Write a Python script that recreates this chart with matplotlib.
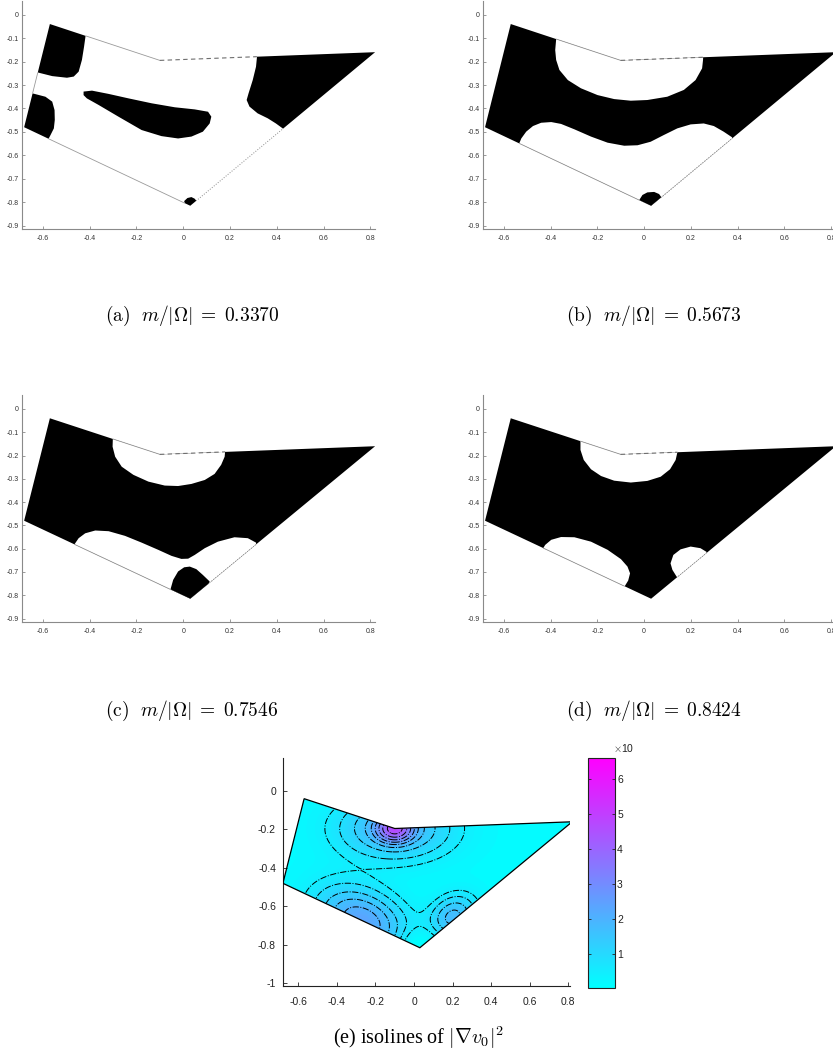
import numpy as np
import matplotlib
matplotlib.use('Agg')
import matplotlib.pyplot as plt
from matplotlib.path import Path
from matplotlib.patches import Polygon, PathPatch
from matplotlib.colors import Normalize
from matplotlib.cm import ScalarMappable

plt.rcParams['mathtext.fontset'] = 'cm'
plt.rcParams['axes.unicode_minus'] = False
plt.rcParams['font.family'] = ['Liberation Sans', 'DejaVu Sans']

W, H = 833, 1059

# domain vertices (top-left, notch, right, bottom, left)
domain_x = [-0.57, -0.10, 0.82, 0.03, -0.68]
domain_y = [-0.04, -0.195, -0.16, -0.815, -0.48]
edge_styles = ['-', '--', ':', '-', '-']

# (a) black regions
a_black = [
    [(-0.66, 0.02), (-0.404, 0.02), (-0.416, -0.080), (-0.424, -0.137), (-0.433, -0.193), (-0.447, -0.243),
     (-0.468, -0.264), (-0.497, -0.269), (-0.560, -0.262), (-0.620, -0.247), (-0.70, -0.236)],
    [(-0.73, -0.32), (-0.643, -0.336), (-0.589, -0.350), (-0.560, -0.371), (-0.550, -0.407), (-0.549, -0.449),
     (-0.553, -0.485), (-0.567, -0.513), (-0.577, -0.532), (-0.63, -0.57), (-0.73, -0.56)],
    [(-0.426, -0.328), (-0.390, -0.324), (-0.319, -0.338), (-0.234, -0.357), (-0.135, -0.378), (-0.036, -0.395),
     (0.049, -0.404), (0.106, -0.414), (0.120, -0.435), (0.113, -0.464), (0.084, -0.499), (0.035, -0.520),
     (-0.022, -0.528), (-0.093, -0.518), (-0.178, -0.492), (-0.277, -0.435), (-0.362, -0.385),
     (-0.412, -0.357), (-0.426, -0.343)],
    [(0.304, -0.08), (0.315, -0.182), (0.311, -0.222), (0.297, -0.279), (0.279, -0.336), (0.271, -0.364),
     (0.283, -0.392), (0.318, -0.421), (0.361, -0.442), (0.396, -0.464), (0.425, -0.485), (0.46, -0.535),
     (1.0, -0.364), (1.0, -0.08)],
    [(0.004, -0.795), (0.018, -0.782), (0.035, -0.778), (0.049, -0.785), (0.060, -0.799), (0.03, -0.9)],
]

# (b) white holes, then black islands inside them
b_white = [
    [(-0.383, -0.023), (-0.376, -0.105), (-0.380, -0.151), (-0.376, -0.193), (-0.362, -0.236), (-0.326, -0.279),
     (-0.270, -0.314), (-0.199, -0.343), (-0.128, -0.360), (-0.057, -0.367), (0.014, -0.364), (0.099, -0.350),
     (0.170, -0.321), (0.220, -0.279), (0.248, -0.229), (0.252, -0.193), (0.255, -0.108)],
    [(-0.596, -0.933), (-0.535, -0.552), (-0.525, -0.528), (-0.504, -0.499), (-0.475, -0.475), (-0.440, -0.461),
     (-0.397, -0.458), (-0.355, -0.466), (-0.298, -0.489), (-0.227, -0.520), (-0.156, -0.546), (-0.085, -0.559),
     (-0.028, -0.557), (0.028, -0.542), (0.085, -0.513), (0.142, -0.485), (0.199, -0.468), (0.255, -0.464),
     (0.298, -0.475), (0.340, -0.499), (0.376, -0.523), (0.468, -0.933)],
]
b_black = [
    [(-0.021, -0.791), (-0.007, -0.769), (0.014, -0.758), (0.043, -0.756), (0.064, -0.765), (0.074, -0.779),
     (0.028, -0.904)],
]

# (c)
c_white = [
    [(-0.305, -0.033), (-0.301, -0.130), (-0.302, -0.162), (-0.291, -0.205), (-0.263, -0.248), (-0.213, -0.283),
     (-0.149, -0.312), (-0.079, -0.329), (-0.022, -0.331), (0.035, -0.322), (0.092, -0.305), (0.134, -0.279),
     (0.162, -0.240), (0.177, -0.205), (0.179, -0.183), (0.191, -0.047)],
    [(-0.560, -0.977), (-0.464, -0.580), (-0.447, -0.555), (-0.419, -0.534), (-0.376, -0.522), (-0.319, -0.525),
     (-0.249, -0.545), (-0.178, -0.574), (-0.107, -0.605), (-0.050, -0.631), (-0.008, -0.644), (0.021, -0.643),
     (0.049, -0.627), (0.092, -0.598), (0.148, -0.570), (0.219, -0.551), (0.276, -0.555), (0.311, -0.574),
     (0.361, -0.977)],
]
c_black = [
    [(-0.054, -0.773), (-0.043, -0.734), (-0.022, -0.698), (0.004, -0.680), (0.028, -0.677), (0.056, -0.688),
     (0.084, -0.713), (0.113, -0.741), (0.035, -0.920)],
]

# (d)
d_white = [
    [(-0.277, -0.047), (-0.272, -0.137), (-0.272, -0.176), (-0.258, -0.219), (-0.227, -0.259), (-0.184, -0.288),
     (-0.128, -0.308), (-0.057, -0.316), (0.014, -0.309), (0.071, -0.291), (0.111, -0.259), (0.135, -0.219),
     (0.142, -0.187), (0.149, -0.062)],
    [(-0.433, -0.601), (-0.423, -0.584), (-0.397, -0.562), (-0.355, -0.550), (-0.298, -0.551), (-0.227, -0.570),
     (-0.156, -0.605), (-0.099, -0.645), (-0.071, -0.677), (-0.060, -0.706), (-0.068, -0.737), (-0.082, -0.760),
     (-0.270, -0.863)],
    [(0.139, -0.720), (0.121, -0.691), (0.113, -0.663), (0.125, -0.627), (0.156, -0.603), (0.199, -0.591),
     (0.241, -0.598), (0.267, -0.614), (0.255, -0.806)],
]
d_black = []

captions = [r'$\mathrm{(a)}\ \ m/|\Omega|\;=\;0.3370$', r'$\mathrm{(b)}\ \ m/|\Omega|\;=\;0.5673$',
            r'$\mathrm{(c)}\ \ m/|\Omega|\;=\;0.7546$', r'$\mathrm{(d)}\ \ m/|\Omega|\;=\;0.8424$']

# (e) |grad v0|^2 modelled by a few bumps
peak_x = [-0.10, -0.10, -0.27, 0.20]
peak_y = [-0.195, -0.195, -0.675, -0.655]
peak_amp = [2.8, 1.8, 2.2, 1.6]
peak_su = [0.06, 0.20, 0.17, 0.09]
peak_sv = [0.045, 0.11, 0.11, 0.07]
peak_angle = [0, 0, -25, 40]
field_base = 0.15
dip_x, dip_y, dip_r = 0.03, -0.815, 0.07
iso_levels = [0.5, 0.8, 1.2, 1.6, 2.0, 2.4, 2.9, 3.5, 4.2]
cbar_ticks = [1, 2, 3, 4, 5, 6]

domain = np.column_stack([domain_x, domain_y])


def px_axes(l, t, r, b):
    return fig.add_axes([l / W, 1 - b / H, (r - l) / W, (b - t) / H])


def compound_path(pos, neg):
    verts, codes = [], []
    for polys, sign in ((pos, 1), (neg, -1)):
        for p in polys:
            p = np.asarray(p, float)
            area = 0.5 * np.sum(p[:, 0] * np.roll(p[:, 1], -1) - np.roll(p[:, 0], -1) * p[:, 1])
            if area * sign < 0:
                p = p[::-1]
            verts += list(p) + [p[0]]
            codes += [Path.MOVETO] + [Path.LINETO] * (len(p) - 1) + [Path.CLOSEPOLY]
    return Path(verts, codes)


def style_small(ax):
    ax.set_xlim(-0.69, 0.82)
    ax.set_ylim(-0.915, 0.06)
    for s in ['top', 'right']:
        ax.spines[s].set_visible(False)
    for s in ['left', 'bottom']:
        ax.spines[s].set_color('#8a8a8a')
        ax.spines[s].set_linewidth(0.8)
    xt = [-0.6, -0.4, -0.2, 0, 0.2, 0.4, 0.6, 0.8]
    yt = [0, -0.1, -0.2, -0.3, -0.4, -0.5, -0.6, -0.7, -0.8, -0.9]
    ax.set_xticks(xt)
    ax.set_xticklabels(['%g' % v for v in xt])
    ax.set_yticks(yt)
    ax.set_yticklabels(['%g' % v for v in yt])
    ax.tick_params(direction='in', length=2.5, width=0.6, color='#8a8a8a', labelsize=5, labelcolor='#333333')
    ax.tick_params(axis='x', pad=4.5)
    ax.tick_params(axis='y', pad=2)
    ax.patch.set_alpha(0)


def draw_outline(ax, clip):
    n = len(domain)
    for i in range(n):
        p, q = domain[i], domain[(i + 1) % n]
        ls = edge_styles[i]
        if ls == '--':
            ln, = ax.plot([p[0], q[0]], [p[1], q[1]], color='#6e6e6e', lw=0.8, dashes=(4, 3), zorder=5)
        elif ls == ':':
            ln, = ax.plot([p[0], q[0]], [p[1], q[1]], color='#8a8a8a', lw=0.7, ls=':', zorder=5)
        else:
            ln, = ax.plot([p[0], q[0]], [p[1], q[1]], color='#9a9a9a', lw=0.6, zorder=5)
        ln.set_clip_path(PathPatch(clip, transform=ax.transData))


def panel(box, black_domain, whites, blacks):
    ax = px_axes(*box)
    style_small(ax)
    dom = Polygon(domain, closed=True, transform=ax.transData)
    if black_domain:
        ax.add_patch(Polygon(domain, closed=True, fc='k', ec='none', zorder=1))
    for w in whites:
        p = Polygon(w, closed=True, fc='w', ec='none', zorder=2)
        ax.add_patch(p)
        p.set_clip_path(dom)
    for b in blacks:
        p = Polygon(b, closed=True, fc='k', ec='none', zorder=3)
        ax.add_patch(p)
        p.set_clip_path(dom)
    if black_domain:
        clip = compound_path(whites, blacks)
    else:
        clip = compound_path([[(-2, -2), (2, -2), (2, 2), (-2, 2)]], blacks)
    draw_outline(ax, clip)
    return ax


fig = plt.figure(figsize=(W / 100, H / 100), dpi=100)

panel((21.8, 0.6, 375.1, 229.2), False, [], a_black)
panel((482.7, 0.6, 835.9, 229.2), True, b_white, b_black)
panel((21.8, 395.0, 375.1, 622.0), True, c_white, c_black)
panel((482.7, 395.0, 835.9, 622.0), True, d_white, d_black)

cap_pos = [(192, 316), (654, 316), (192, 711), (654, 711)]
for (cx, cy), txt in zip(cap_pos, captions):
    fig.text(cx / W, 1 - cy / H, txt, ha='center', va='center', fontsize=14)

# (e) field and isolines
ax = px_axes(282.9, 758.3, 570.3, 986.2)
gx = np.linspace(-0.72, 0.86, 400)
gy = np.linspace(-0.86, -0.0, 240)
X, Y = np.meshgrid(gx, gy)
F = np.full_like(X, field_base)
for x0, y0, a, su, sv, ang in zip(peak_x, peak_y, peak_amp, peak_su, peak_sv, peak_angle):
    t = np.deg2rad(ang)
    u = (X - x0) * np.cos(t) + (Y - y0) * np.sin(t)
    v = -(X - x0) * np.sin(t) + (Y - y0) * np.cos(t)
    F += a * np.exp(-(u ** 2 / (2 * su ** 2) + v ** 2 / (2 * sv ** 2)))
F *= 1 - np.exp(-((X - dip_x) ** 2 + (Y - dip_y) ** 2) / (2 * dip_r ** 2))

norm = Normalize(0.035, 6.6)
dom_e = Polygon(domain, closed=True, transform=ax.transData)
cf = ax.contourf(X, Y, F, levels=np.linspace(0.035, 6.6, 80), cmap='cool', norm=norm, extend='both')
cf.set_clip_path(dom_e)
cs = ax.contour(X, Y, F, levels=iso_levels, colors='k', linewidths=0.7, linestyles='-.')
cs.set_clip_path(dom_e)
ax.add_patch(Polygon(domain, closed=True, fc='none', ec='k', lw=0.9, zorder=4))
ax.set_xlim(-0.68, 0.81)
ax.set_ylim(-1.015, 0.17)
for s in ['top', 'right']:
    ax.spines[s].set_visible(False)
for s in ['left', 'bottom']:
    ax.spines[s].set_color('#222222')
    ax.spines[s].set_linewidth(0.8)
xt = [-0.6, -0.4, -0.2, 0, 0.2, 0.4, 0.6, 0.8]
yt = [-1, -0.8, -0.6, -0.4, -0.2, 0]
ax.set_xticks(xt)
ax.set_xticklabels(['%g' % v for v in xt])
ax.set_yticks(yt)
ax.set_yticklabels(['%g' % v for v in yt])
ax.tick_params(direction='in', length=3, width=0.6, labelsize=7.5, colors='#222222')
ax.tick_params(axis='x', pad=8)
ax.tick_params(axis='y', pad=5)

cax = px_axes(588, 758, 615, 988)
cb = fig.colorbar(ScalarMappable(norm=norm, cmap='cool'), cax=cax, ticks=cbar_ticks)
cb.outline.set_linewidth(0.8)
cb.outline.set_edgecolor('#222222')
cax.tick_params(direction='in', length=2.5, width=0.6, left=True, right=True, labelsize=7.5, pad=1.5,
                colors='#222222')
fig.text(613 / W, 1 - 748 / H, r'$\times$10', fontsize=7.5, ha='left', va='center', color='#222222')

fig.text(418 / W, 1 - 1038 / H, r'(e) isolines of $|\nabla v_0|^2$', ha='center', va='center',
         fontsize=14.5, family='Liberation Serif')

fig.savefig('out.png', dpi=100)
